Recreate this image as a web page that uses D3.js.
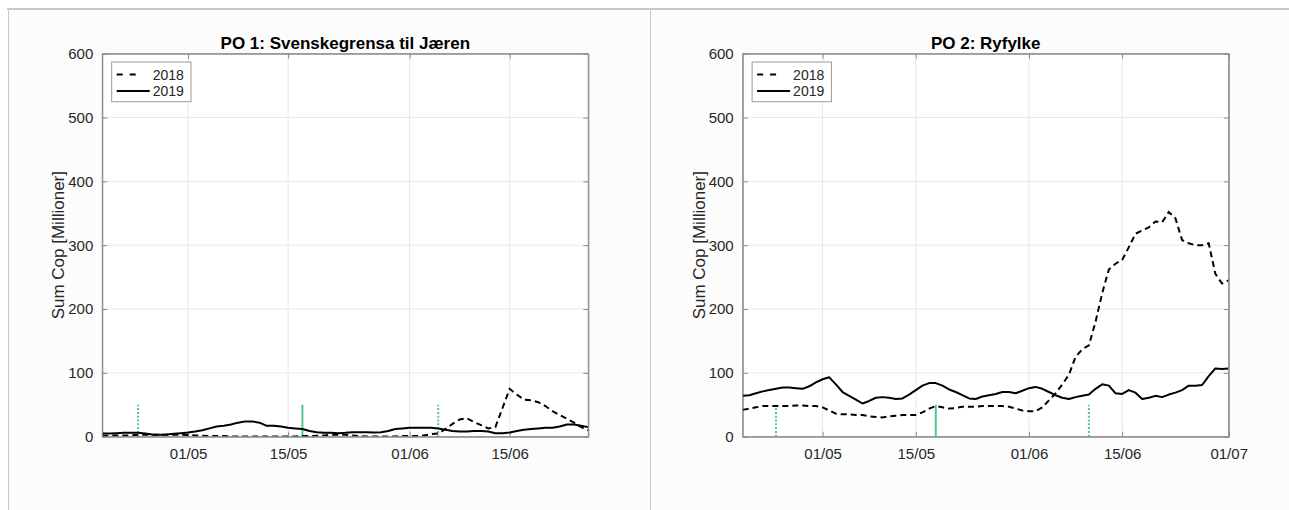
<!DOCTYPE html>
<html><head><meta charset="utf-8">
<script src="https://cdn.jsdelivr.net/npm/d3@7"></script>
<style>
html,body{margin:0;padding:0;background:#fff;}
svg{display:block;}
text{font-family:"Liberation Sans",Arial,Helvetica,sans-serif;}
</style></head>
<body>
<svg id="chart" width="1289" height="510"></svg>
<script>
// ---------- data ----------
const panelTitles = ["PO 1: Svenskegrensa til Jæren", "PO 2: Ryfylke"];
const seriesNames = ["2018", "2019"];
const startDate = "2019-04-19";
const endDates = ["2019-06-26", "2019-07-01"];
const yTicks = [0, 100, 200, 300, 400, 500, 600];
const tickDates = ["2019-05-01", "2019-05-15", "2019-06-01", "2019-06-15", "2019-07-01"];
const tickLabels = ["01/05", "15/05", "01/06", "15/06", "01/07"];

// PO 1, daily values from 19/04
const po1_2018 = [1.5,1.5,2,2,2,3,3,3,3,3,
  3,3,2.5,2,1.5,1,1,1,0.5,0.5,
  0.5,0.5,0.5,0.5,0.5,0.5,0.5,0.5,1,1,
  1.5,2,3,3,3,2,1,0.5,0.5,0.5,
  0.5,0.5,1,1,1,2,4,5,12,20,
  27,29,23,18,13,15,45,75,66,58,
  57,54,48,40,34,28,22,15,10];
const po1_2019 = [5,5,5.5,6,6,6,5,3.5,3,3.5,
  4.5,5.5,6.5,8,10,13,16,17,19,22,
  24,24,22,17,17,16,14,13,12,9,
  7,6,6,5.5,6,7,7,7,6.5,7,
  9,12,13,14,14,14,14,13,11,9,
  8,8,9,9,8,5.5,5.5,6.5,9,11,
  12,13,14,14,16,19,19,17,15];
// PO 2, daily values from 19/04
const po2_2018 = [42,44,46,48,48,48,48,48,49,49,
  48,48,46,41,36,35,35,34,34,32,
  31,30,32,33,34,34,34,38,44,48,
  46,44,45,47,47,47,48,48,48,48,
  47,44,41,40,40,46,57,68,82,97,
  125,137,143,180,225,262,271,277,297,318,
  323,328,337,336,352,342,308,303,300,300,
  303,255,240,245];
const po2_2019 = [64,65,68,71,73,75,77,77,76,75,
  79,85,90,93,82,70,64,58,52,56,
  61,62,61,59,60,66,73,80,84,84,
  80,74,70,65,60,59,63,65,67,70,
  70,68,72,76,78,75,70,65,61,59,
  62,64,66,75,82,80,68,67,73,69,
  59,61,64,62,66,69,73,80,80,81,
  95,107,106,107];

// green marker lines (date, style)
const markerDates = [["2019-04-24","2019-05-17","2019-06-05"], ["2019-04-24","2019-05-18","2019-06-10"]];
const markerStyles = ["dotted", "solid", "dotted"];
const markerValue = 50;

const panelData = [[po1_2018, po1_2019], [po2_2018, po2_2019]];

// ---------- drawing ----------
const parse = d3.utcParse("%Y-%m-%d");
const svg = d3.select("#chart");
const green = "#52c98c";
const axisGray = "#8a8a8a";
const textGray = "#262626";

// panel frame
svg.append("rect").attr("x", 8).attr("y", 9).attr("width", 1281).attr("height", 501).attr("fill", "#fcfcfc");
svg.append("line").attr("x1", 7).attr("x2", 1289).attr("y1", 9).attr("y2", 9).attr("stroke", "#c8c8c8").attr("stroke-width", 2);
svg.append("line").attr("x1", 8.5).attr("x2", 8.5).attr("y1", 9).attr("y2", 510).attr("stroke", "#c8c8c8").attr("stroke-width", 1);
svg.append("line").attr("x1", 650.5).attr("x2", 650.5).attr("y1", 9).attr("y2", 510).attr("stroke", "#c8c8c8").attr("stroke-width", 1);

const plotLefts = [102.3, 742.7];
const plotTop = 53.7, plotH = 383, plotW = 486;

panelTitles.forEach((title, p) => {
  const start = parse(startDate), end = parse(endDates[p]);
  const x = d3.scaleUtc().domain([start, end]).range([0, plotW]);
  const y = d3.scaleLinear().domain([0, 600]).range([plotH, 0]);
  const g = svg.append("g").attr("transform", `translate(${plotLefts[p]},${plotTop})`);

  g.append("rect").attr("width", plotW).attr("height", plotH).attr("fill", "#fff");

  const ticks = tickDates.map(parse).filter(d => d <= end);
  const labelFor = d => tickLabels[tickDates.indexOf(d3.utcFormat("%Y-%m-%d")(d))];

  // grid
  g.append("g").selectAll("line").data(yTicks.slice(1, -1)).join("line")
    .attr("x1", 0).attr("x2", plotW).attr("y1", d => y(d)).attr("y2", d => y(d))
    .attr("stroke", "#e8e8e8").attr("stroke-width", 1);
  g.append("g").selectAll("line").data(ticks.filter(d => +d < +end)).join("line")
    .attr("x1", d => x(d)).attr("x2", d => x(d)).attr("y1", 0).attr("y2", plotH)
    .attr("stroke", "#e8e8e8").attr("stroke-width", 1);

  // axes
  const xAxis = d3.axisBottom(x).tickValues(ticks).tickFormat(labelFor).tickSizeInner(-5).tickSizeOuter(0).tickPadding(12);
  const gx = g.append("g").attr("transform", `translate(0,${plotH})`).call(xAxis);
  const yAxis = d3.axisLeft(y).tickValues(yTicks).tickSizeInner(-5).tickSizeOuter(0).tickPadding(9);
  const gy = g.append("g").call(yAxis);
  const yAxisR = d3.axisRight(y).tickValues(yTicks).tickSizeInner(-5).tickSizeOuter(0).tickFormat("");
  const gyr = g.append("g").attr("transform", `translate(${plotW},0)`).call(yAxisR);
  const xAxisT = d3.axisTop(x).tickValues(ticks).tickSizeInner(-5).tickSizeOuter(0).tickFormat("");
  const gxt = g.append("g").call(xAxisT);
  [gx, gy, gyr, gxt].forEach(a => {
    a.select(".domain").attr("stroke", axisGray);
    a.selectAll(".tick line").attr("stroke", axisGray);
    a.selectAll("text").attr("fill", textGray).attr("font-size", 15)
      .attr("font-family", '"Liberation Sans",Arial,Helvetica,sans-serif');
  });

  // markers
  markerDates[p].forEach((md, i) => {
    const dx = x(parse(md));
    g.append("line").attr("x1", dx).attr("x2", dx).attr("y1", y(0)).attr("y2", y(markerValue))
      .attr("stroke", green)
      .attr("stroke-width", 2)
      .attr("stroke-dasharray", markerStyles[i] === "solid" ? null : "2,1.8");
  });

  // lines
  const clip = "clip" + p;
  g.append("clipPath").attr("id", clip).append("rect").attr("x", 0).attr("y", -2).attr("width", plotW).attr("height", plotH + 2);
  const line = d3.line().x((d, i) => x(d3.utcDay.offset(start, i))).y(d => y(d));
  const [s18, s19] = panelData[p];
  g.append("path").datum(s19).attr("d", line).attr("fill", "none").attr("stroke", "#000")
    .attr("stroke-width", 2).attr("stroke-linejoin", "round").attr("clip-path", `url(#${clip})`);
  g.append("path").datum(s18).attr("d", line).attr("fill", "none").attr("stroke", "#000")
    .attr("stroke-width", 2).attr("stroke-dasharray", "6,4").attr("clip-path", `url(#${clip})`);

  // outer box on top
  g.append("rect").attr("width", plotW).attr("height", plotH).attr("fill", "none").attr("stroke", axisGray).attr("stroke-width", 1);

  // title
  g.append("text").attr("x", plotW / 2).attr("y", -5).attr("text-anchor", "middle")
    .attr("font-size", 17).attr("font-weight", "bold").attr("fill", "#000").text(title);
  // y label
  g.append("text").attr("transform", `translate(${-38},${plotH / 2}) rotate(-90)`)
    .attr("text-anchor", "middle").attr("font-size", 17).attr("fill", textGray).text("Sum Cop [Millioner]");

  // legend
  const lg = g.append("g").attr("transform", "translate(9.4,8.3)");
  lg.append("rect").attr("width", 79.3).attr("height", 39.7).attr("fill", "#fff").attr("stroke", "#9a9a9a").attr("stroke-width", 1);
  seriesNames.forEach((name, i) => {
    const cy = 12.5 + i * 16.5;
    lg.append("line").attr("x1", 5).attr("x2", i === 0 ? 29 : 38).attr("y1", cy).attr("y2", cy)
      .attr("stroke", "#000").attr("stroke-width", 2).attr("stroke-dasharray", i === 0 ? "6,7" : null);
    lg.append("text").attr("x", 41).attr("y", cy + 5).attr("font-size", 14).attr("fill", textGray).text(name);
  });
});
</script>
</body></html>
